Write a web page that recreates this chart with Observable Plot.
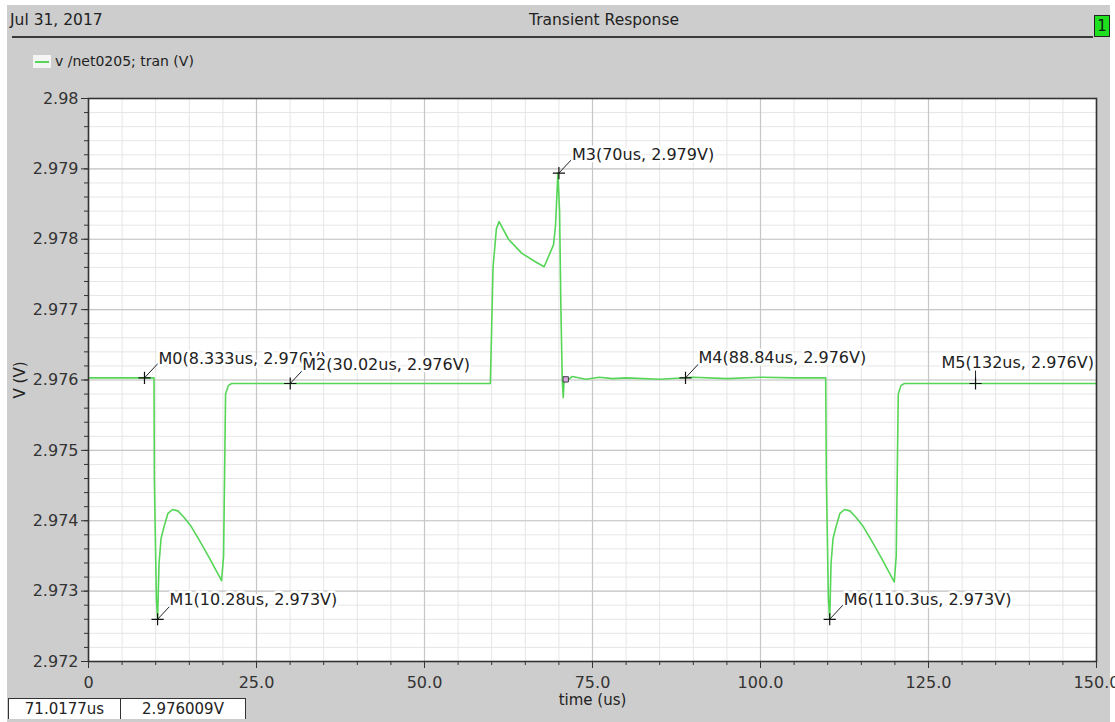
<!DOCTYPE html>
<html>
<head>
<meta charset="utf-8">
<script src="https://cdn.jsdelivr.net/npm/d3@7"></script>
<script src="https://cdn.jsdelivr.net/npm/@observablehq/plot@0.6"></script>
<style>
  html, body { margin: 0; padding: 0; background: #ffffff; }
  #wrap { position: relative; width: 1115px; height: 722px; overflow: hidden; font-family: "DejaVu Sans", sans-serif; color: #222; }
  #panel { position: absolute; left: 7px; top: 5px; width: 1103px; height: 717px; background: #cdcdcd; }
  #chart { position: absolute; left: 0; top: 0; }
  .abs { position: absolute; white-space: nowrap; }
  #date { left: 10px; top: 11px; font-size: 15.5px; }
  #title { left: 604px; top: 11px; font-size: 15.5px; transform: translateX(-50%); }
  #sep { left: 12px; top: 36px; width: 1081px; height: 2px; background: #3a3a3a; }
  #badge { left: 1094px; top: 15px; width: 14px; height: 20px; background: #1fe01f; border: 1px solid #222; font-size: 15px; line-height: 20px; text-align: center; color: #102010; }
  #legend { left: 33px; top: 53px; font-size: 14px; display: flex; align-items: center; }
  #legend .swatch { width: 18px; height: 13px; background: #f4f4f4; position: relative; margin-right: 4px; }
  #legend .swatch::after { content: ""; position: absolute; left: 2px; right: 2px; top: 6px; height: 2px; background: #56d656; }
  .status { top: 698px; height: 20px; background: #fff; border: 1px solid #333; border-bottom: none; font-size: 15px; line-height: 21px; text-align: center; }
</style>
</head>
<body>
<div id="wrap">
  <div id="panel"></div>
  <div id="chart"></div>
  <div class="abs" id="date">Jul 31, 2017</div>
  <div class="abs" id="title">Transient Response</div>
  <div class="abs" id="sep"></div>
  <div class="abs" id="badge">1</div>
  <div class="abs" id="legend"><span class="swatch"></span><span>v /net0205; tran (V)</span></div>
  <div class="abs status" style="left:8px; width:111px;">71.0177us</div>
  <div class="abs status" style="left:120px; width:124px;">2.976009V</div>
</div>
<script>
// Transient waveform of v(/net0205): time in microseconds, voltage in volts
const timeUs = [
  0, 9.75, 9.8, 10.1, 10.28, 10.5, 10.8, 11.2, 11.8, 12.5, 13.3, 14.2, 15.2, 16.5, 18, 19.8,
  20.1, 20.4, 20.8, 21.3, 40, 59.8,
  60.2, 60.7, 61.1, 62.5, 64.5, 66.5, 67.8, 69.2, 69.5, 69.85, 70.1, 70.3, 70.5, 70.65, 70.8, 71.1,
  72, 74, 76, 78, 80, 85, 90, 95, 100, 105, 109.7,
  109.8, 110.1, 110.3, 110.5, 110.8, 111.2, 111.8, 112.5, 113.3, 114.2, 115.2, 116.5, 118, 119.9,
  120.2, 120.5, 120.9, 121.4, 150
];
const volts = [
  2.97603, 2.97603, 2.9746, 2.9729, 2.9726, 2.9734, 2.97375, 2.9739, 2.9741, 2.97416, 2.97414, 2.97405, 2.97393, 2.97372, 2.97347, 2.97315,
  2.9735, 2.9758, 2.97592, 2.97595, 2.97595, 2.97595,
  2.9776, 2.97815, 2.97825, 2.978, 2.9778, 2.97768, 2.97761, 2.97792, 2.9782, 2.97894, 2.9784, 2.977, 2.9760, 2.97575, 2.97605, 2.97598,
  2.97605, 2.97601, 2.97604, 2.97602, 2.97603, 2.97601, 2.97604, 2.97602, 2.97604, 2.97603, 2.97603,
  2.9746, 2.9729, 2.9726, 2.9734, 2.97375, 2.9739, 2.9741, 2.97416, 2.97414, 2.97405, 2.97393, 2.97372, 2.97347, 2.97313,
  2.9735, 2.9758, 2.97592, 2.97595, 2.97595
];

// Placed markers
const markerName = ["M0", "M1", "M2", "M3", "M4", "M5", "M6"];
const markerTime = [8.333, 10.28, 30.02, 70, 88.84, 132, 110.3];
const markerVolt = [2.97603, 2.9726, 2.97595, 2.97894, 2.97603, 2.97595, 2.9726];
const markerText = [
  "M0(8.333us, 2.976V)", "M1(10.28us, 2.973V)", "M2(30.02us, 2.976V)", "M3(70us, 2.979V)",
  "M4(88.84us, 2.976V)", "M5(132us, 2.976V)", "M6(110.3us, 2.973V)"
];

// Crosshair cursor readout
const cursorTime = [71.0177];
const cursorVolt = [2.976009];

// Axis ticks
const xTickValues = [0, 25, 50, 75, 100, 125, 150];
const yTickValues = [2.972, 2.973, 2.974, 2.975, 2.976, 2.977, 2.978, 2.979, 2.98];

// Layout
const W = 1115, H = 722;
const M = {left: 88, right: 19, top: 98, bottom: 61};
const xDomain = [0, 150], yDomain = [2.972, 2.98];
const pxPerX = (W - M.left - M.right) / (xDomain[1] - xDomain[0]);
const pxPerY = (H - M.top - M.bottom) / (yDomain[1] - yDomain[0]);

// Leader and label placement around each marker, in pixels (right, up)
const leaderPx = [[14, 15], [14, 15], [14, 15], [14, 15], [14, 15], [0, 17], [14, 15]];
const labelPx = [[14, 19], [12, 19], [12, 19], [13, 18], [13, 20], [-34, 21], [14, 19]];

const minorX = d3.range(0, 31).map(i => i * 5);
const minorY = d3.range(0, 41).map(i => 2.972 + i * 0.0002);

const waveform = timeUs.map((t, i) => ({t, v: volts[i]}));
const markers = markerName.map((name, i) => ({
  name,
  t: markerTime[i],
  v: markerVolt[i],
  text: markerText[i],
  lx: markerTime[i] + leaderPx[i][0] / pxPerX,
  ly: markerVolt[i] + leaderPx[i][1] / pxPerY,
  tx: markerTime[i] + labelPx[i][0] / pxPerX,
  ty: markerVolt[i] + labelPx[i][1] / pxPerY
}));
const cursor = cursorTime.map((t, i) => ({t, v: cursorVolt[i]}));

const chart = Plot.plot({
  width: W,
  height: H,
  marginLeft: M.left,
  marginRight: M.right,
  marginTop: M.top,
  marginBottom: M.bottom,
  style: {fontFamily: "DejaVu Sans, sans-serif", fontSize: "16px", color: "#333", background: "transparent", overflow: "visible"},
  x: {domain: xDomain},
  y: {domain: yDomain},
  marks: [
    Plot.frame({fill: "#ffffff"}),
    Plot.ruleX(minorX, {stroke: "#e6e6e6", strokeWidth: 1}),
    Plot.ruleY(minorY, {stroke: "#e6e6e6", strokeWidth: 1}),
    Plot.ruleX(xTickValues, {stroke: "#c6c6c6", strokeWidth: 1.2}),
    Plot.ruleY(yTickValues, {stroke: "#c6c6c6", strokeWidth: 1.2}),
    Plot.line(waveform, {x: "t", y: "v", stroke: "#56d656", strokeWidth: 1.6}),
    Plot.link(markers, {x1: "t", y1: "v", x2: "lx", y2: "ly", stroke: "#222", strokeWidth: 1}),
    Plot.dot(markers, {x: "t", y: "v", symbol: "plus", r: 4, stroke: "#111", strokeWidth: 1.2}),
    Plot.dot(cursor, {x: "t", y: "v", symbol: "square", r: 3, stroke: "#444", fill: "#dca4e4", strokeWidth: 1}),
    Plot.text(markers, {
      x: "tx", y: "ty", text: "text", textAnchor: "start",
      fill: "#222", stroke: "#ffffff", strokeWidth: 5, fontSize: 16
    }),
    Plot.frame({stroke: "#333", strokeWidth: 1.6}),
    Plot.axisX(minorX, {tickSize: 4, tickFormat: () => "", label: null, stroke: "#333"}),
    Plot.axisX(xTickValues, {
      tickSize: 7, tickPadding: 8, label: null, stroke: "#333", fill: "#333",
      tickFormat: d => d === 0 ? "0" : d.toFixed(1)
    }),
    Plot.axisY(minorY, {tickSize: 4, tickFormat: () => "", label: null, stroke: "#333"}),
    Plot.axisY(yTickValues, {
      tickSize: 7, tickPadding: 3, label: null, stroke: "#333", fill: "#333",
      tickFormat: d => String(+d.toFixed(3))
    }),
    Plot.text(["time (us)"], {frameAnchor: "bottom", dy: 39, textAnchor: "middle", lineAnchor: "middle", fontSize: 15, fill: "#222"}),
    Plot.text(["V (V)"], {frameAnchor: "left", dx: -68, rotate: -90, textAnchor: "middle", lineAnchor: "middle", fontSize: 15, fill: "#222"})
  ]
});

document.getElementById("chart").appendChild(chart);
</script>
</body>
</html>
